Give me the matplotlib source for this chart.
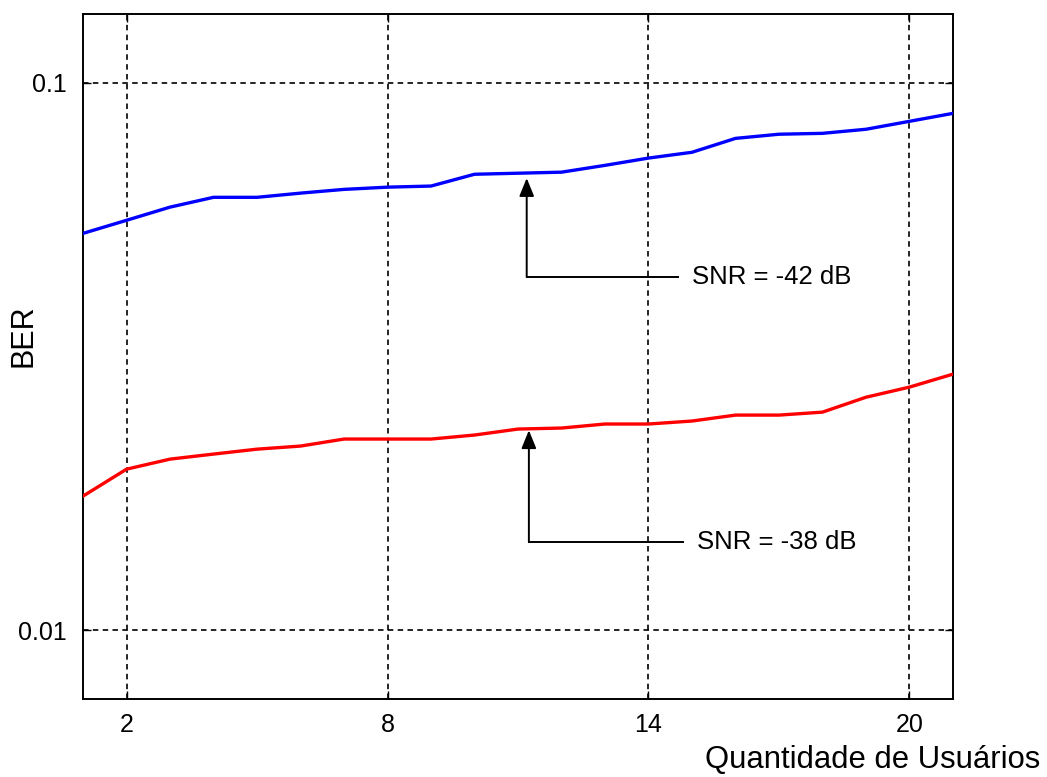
import matplotlib
matplotlib.use("Agg")
import matplotlib.pyplot as plt

plt.rcParams['font.family'] = ['Liberation Sans', 'DejaVu Sans']

users = list(range(1, 22))
ber_snr42 = [0.0531, 0.0561, 0.0593, 0.0618, 0.0618, 0.0629, 0.0639, 0.0645, 0.0648, 0.0681,
             0.0684, 0.0687, 0.0707, 0.0729, 0.0747, 0.0792, 0.0806, 0.0809, 0.0823, 0.0851, 0.0880]
ber_snr38 = [0.01757, 0.01968, 0.02053, 0.02097, 0.02141, 0.02169, 0.02234, 0.02234, 0.02234, 0.02272,
             0.02330, 0.02340, 0.02380, 0.02380, 0.02410, 0.02471, 0.02471, 0.02502, 0.02664, 0.02780, 0.02936]
x_ticks = [2, 8, 14, 20]
y_ticks = [0.01, 0.1]
y_tick_labels = ['0.01', '0.1']

fig = plt.figure(figsize=(10.47, 7.77), dpi=100)
ax = fig.add_axes([0.0793, 0.1004, 0.8309, 0.8816])

ax.plot(users, ber_snr42, color='#0000ff', lw=2.4, zorder=3)
ax.plot(users, ber_snr38, color='#ff0000', lw=2.4, zorder=3)

ax.set_yscale('log')
ax.set_xlim(1, 21)
ax.set_ylim(0.00748, 0.1337)
ax.set_xticks(x_ticks)
ax.set_xticklabels([str(t) for t in x_ticks])
ax.set_yticks(y_ticks)
ax.set_yticklabels(y_tick_labels)
ax.minorticks_off()
ax.tick_params(direction='in', length=6, width=1, labelsize=18, top=True, right=True)
ax.tick_params(axis='y', pad=12)
ax.tick_params(axis='x', pad=10)
ax.grid(True, color='black', linestyle=(0, (3.3, 2.6)), linewidth=1.2)
for sp in ax.spines.values():
    sp.set_linewidth(1.4)

# annotations: elbow line with arrow pointing at each curve
notes = [('SNR = -42 dB', 11.2, 0.0670, 0.04416, 14.67),
         ('SNR = -38 dB', 11.25, 0.02318, 0.01448, 14.79)]
for label, xt, yt, yc, xe in notes:
    ax.plot([xe, xt], [yc, yc], color='black', lw=1.4, zorder=4)
    ax.annotate('', xy=(xt, yt), xytext=(xt, yc),
                arrowprops=dict(arrowstyle='-|>,head_length=1.1,head_width=0.45',
                                color='black', lw=1.4, shrinkA=0, shrinkB=0), zorder=4)
    ax.text(xe + 0.33, yc, label, fontsize=18.5, ha='left', va='center')

fig.text(1040 / 1047, 1 - 760 / 777, 'Quantidade de Usuários', fontsize=22.3, ha='right', va='center')
fig.text(24 / 1047, 1 - 336 / 777, 'BER', fontsize=22, rotation=90, ha='center', va='center')

fig.savefig('out.png', dpi=100)
